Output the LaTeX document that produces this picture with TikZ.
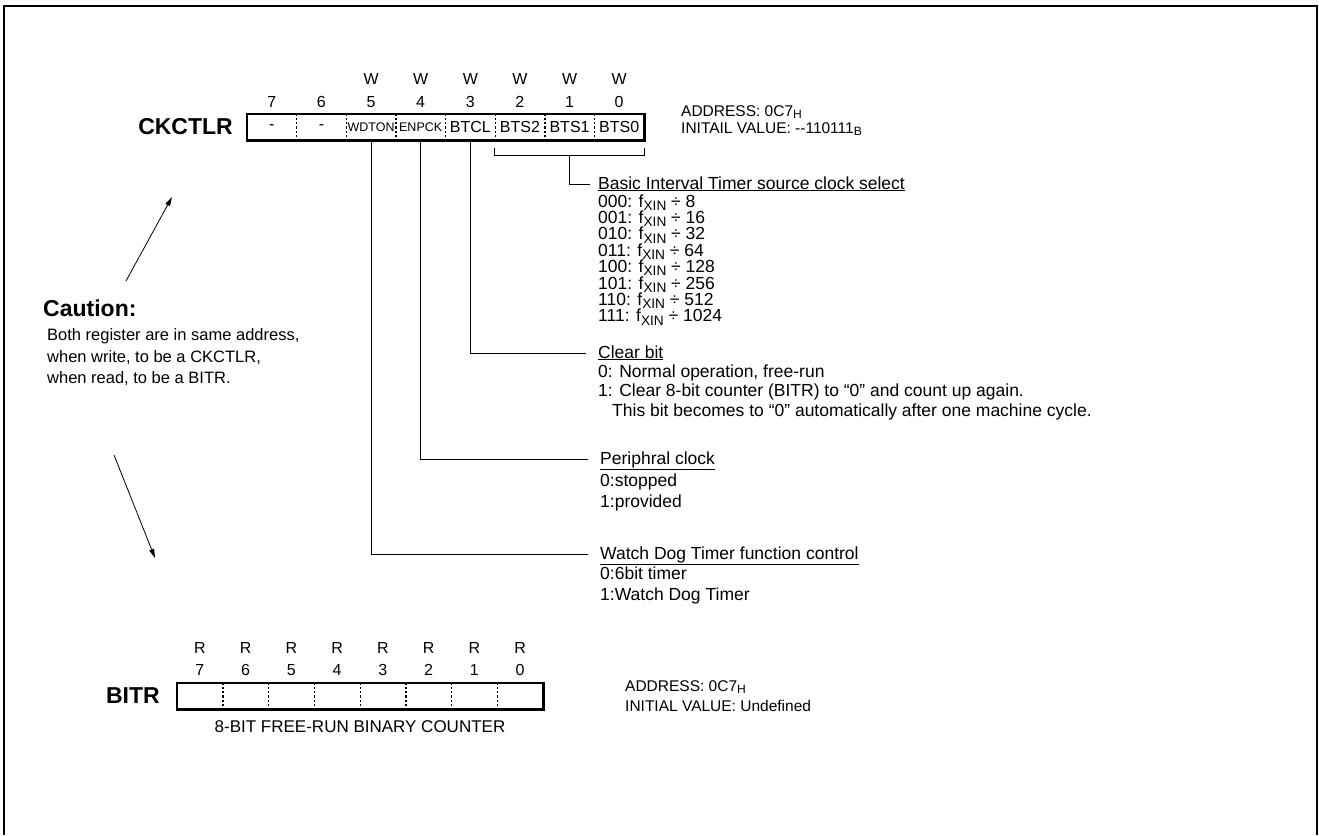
\documentclass[tikz,border=0pt]{standalone}
\usepackage{fontspec}
\setmainfont{Liberation Sans}
\usetikzlibrary{arrows.meta}
\newcommand{\fs}[1]{\fontsize{#1}{#1}\selectfont}
\newcommand{\lowsub}[1]{\raisebox{-0.35ex}{\scalebox{0.78}{#1}}}
\begin{document}
\begin{tikzpicture}[x=1pt,y=-1pt,
  reglbl/.style={inner sep=0pt,font=\fs{16}},
  cellbox/.style={inner sep=0pt,minimum height=26pt},
  divline/.style={line width=1.2pt,dash pattern=on 2.2pt off 2pt},
  regframe/.style={line width=2.6pt},
  wire/.style={line width=0.9pt},
  txt/.style={inner sep=0pt,anchor=base west,font=\fs{17.5}},
  smalltxt/.style={inner sep=0pt,anchor=base west,font=\fs{15.5}},
  cautiontxt/.style={inner sep=0pt,anchor=base west,font=\fs{16.5}},
  regname/.style={inner sep=0pt,anchor=east,font=\bfseries\fs{23}},
  arr/.style={line width=0.8pt,-{Triangle[length=9pt,width=5pt]}}]
\useasboundingbox (0,0) rectangle (1319,835);
% outer frame
\draw[line width=1.5pt] (4,835) -- (4,6) -- (1317,6) -- (1317,835);

% ---------------- CKCTLR ----------------
\foreach \i/\lab/\f in {7/-/16, 6/-/16, 5/WDTON/12.5, 4/ENPCK/12.5, 3/BTCL/16, 2/BTS2/16, 1/BTS1/16, 0/BTS0/16} {
  \node[cellbox, minimum width=49.625pt, font=\fs{\f}] (c\i) at ({247+49.625*(7-\i)+24.8125},127) {\lab};
  \node[reglbl] (cn\i) at ({247+49.625*(7-\i)+24.8125},102) {\i};
}
\foreach \i in {0,...,5} {
  \node[reglbl] (cw\i) at ({247+49.625*(7-\i)+24.8125},79) {W};
}
\foreach \i in {7,...,1} {
  \draw[divline] (c\i.north east) -- (c\i.south east);
}
\draw[regframe] (c7.north west) rectangle (c0.south east);
\node[regname] (ckname) at (233,127) {CKCTLR};
\node[smalltxt] (ckaddr) at (681,116) {ADDRESS: 0C7\lowsub{H}};
\node[smalltxt] (ckinit) at (681,133) {INITAIL VALUE: -{}-110111\lowsub{B}};

% bracket over bits 2..0
\coordinate (brL1) at ([yshift=-8pt]c2.south west);
\coordinate (brL2) at ([yshift=-15pt]c2.south west);
\coordinate (brR1) at ([yshift=-8pt]c0.south east);
\coordinate (brR2) at ([yshift=-15pt]c0.south east);
\coordinate (brM) at ([yshift=-15pt]c1.south);
\draw[wire] (brL1) -- (brL2) -- (brR2) -- (brR1);

% descriptions
\coordinate (basicend) at (590,184);
\draw[wire] (brM) |- (basicend);
\node[txt] (basic) at (598,189) {\underline{Basic Interval Timer source clock select}};
\foreach \k/\code/\div in {0/000/8, 1/001/16, 2/010/32, 3/011/64, 4/100/128, 5/101/256, 6/110/512, 7/111/1024} {
  \node[txt] (bl\k) at (598,{207+16.4*\k}) {\code: f\lowsub{XIN} ÷ \div};
}

\coordinate (clrend) at (586,353);
\draw[wire] (c3.south) |- (clrend);
\node[txt] (clr) at (598,358) {\underline{Clear bit}};
\node[txt] (clr0) at (598,377) {0: Normal operation, free-run};
\node[txt] (clr1) at (598,396) {1: Clear 8-bit counter (BITR) to “0” and count up again.};
\node[txt] (clr2) at (612,416) {This bit becomes to “0” automatically after one machine cycle.};

\coordinate (perend) at (588,459);
\draw[wire] (c4.south) |- (perend);
\node[txt] (per) at (600,464) {\underline{Periphral clock}};
\node[txt] (per0) at (600,486) {0:stopped};
\node[txt] (per1) at (600,507) {1:provided};

\coordinate (wdtend) at (588,554);
\draw[wire] (c5.south) |- (wdtend);
\node[txt] (wdt) at (600,559) {\underline{Watch Dog Timer function control}};
\node[txt] (wdt0) at (600,579) {0:6bit timer};
\node[txt] (wdt1) at (600,600) {1:Watch Dog Timer};

% ---------------- Caution ----------------
\node[inner sep=0pt,anchor=base west,font=\bfseries\fs{23}] (caut) at (43,316) {Caution:};
\node[cautiontxt] (caut1) at (47,340) {Both register are in same address,};
\node[cautiontxt] (caut2) at (47,362) {when write, to be a CKCTLR,};
\node[cautiontxt] (caut3) at (47,383) {when read, to be a BITR.};
\coordinate (ua1) at (126,281);
\coordinate (ua2) at (172,197);
\draw[arr] (ua1) -- (ua2);
\coordinate (da1) at (114,455);
\coordinate (da2) at (155,558);
\draw[arr] (da1) -- (da2);

% ---------------- BITR ----------------
\foreach \i in {7,...,0} {
  \node[cellbox, minimum width=45.75pt] (b\i) at ({177+45.75*(7-\i)+22.875},696) {};
  \node[reglbl] (bn\i) at ({177+45.75*(7-\i)+22.875},670) {\i};
  \node[reglbl] (br\i) at ({177+45.75*(7-\i)+22.875},648) {R};
}
\foreach \i in {7,...,1} {
  \draw[divline] (b\i.north east) -- (b\i.south east);
}
\draw[regframe] (b7.north west) rectangle (b0.south east);
\node[regname] (bitrname) at (160,696) {BITR};
\node[inner sep=0pt,font=\fs{17}] (cnt) at (360,727) {8-BIT FREE-RUN BINARY COUNTER};
\node[smalltxt] (baddr) at (625,691) {ADDRESS: 0C7\lowsub{H}};
\node[smalltxt] (binit) at (625,711) {INITIAL VALUE: Undefined};
\end{tikzpicture}
\end{document}
